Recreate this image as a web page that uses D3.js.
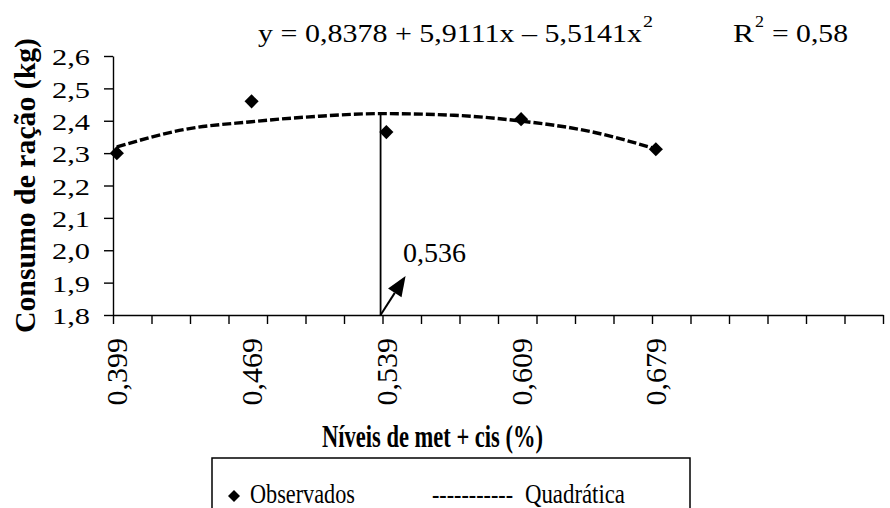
<!DOCTYPE html>
<html>
<head>
<meta charset="utf-8">
<script src="https://cdn.jsdelivr.net/npm/d3@7"></script>
<style>
  html, body { margin: 0; padding: 0; background: #fff; }
  svg { display: block; }
  text { font-family: "Liberation Serif", "Times New Roman", serif; fill: #000; }
</style>
</head>
<body>
<svg id="chart" width="890" height="508"></svg>
<script>
// ---- data ----
const xLabels   = ["0,399", "0,469", "0,539", "0,609", "0,679"];
const xValues   = [0.399, 0.469, 0.539, 0.609, 0.679];
const observed  = [2.300, 2.460, 2.365, 2.405, 2.312];
const fitX      = [0.399, 0.434, 0.469, 0.504, 0.536, 0.574, 0.609, 0.644, 0.679];
const fitY      = [2.319, 2.373, 2.397, 2.414, 2.422, 2.417, 2.399, 2.368, 2.313];
const yTicks    = [1.8, 1.9, 2.0, 2.1, 2.2, 2.3, 2.4, 2.5, 2.6];
const optimumX  = 0.536;
const optimumY  = 2.422;
const optimumLabel = "0,536";
const equationText = "y = 0,8378 + 5,9111x – 5,5141x";
const r2Value = "0,58";
const xTitle = "Níveis de met + cis (%)";
const yTitle = "Consumo de ração (kg)";
const legendLabels = ["Observados", "Quadrática"];

// ---- layout ----
const svg = d3.select("#chart");
const xDomain = [0.397, 0.797];
const x = d3.scaleLinear().domain(xDomain).range([113, 883]);
const y = d3.scaleLinear().domain([1.8, 2.6]).range([315, 56]);
const fmt = d => d3.format(".1f")(d).replace(".", ",");

function fit(sel, w) { sel.attr("textLength", w).attr("lengthAdjust", "spacingAndGlyphs"); return sel; }

// y axis
const yAxis = d3.axisLeft(y).tickValues(yTicks).tickFormat("").tickSize(9).tickSizeOuter(0);
const gy = svg.append("g").attr("transform", `translate(${x.range()[0]},0)`).call(yAxis);
gy.selectAll("path, line").attr("stroke", "#000").attr("stroke-width", 1.4);
yTicks.forEach(t => {
  fit(svg.append("text").attr("x", 52).attr("y", y(t)).attr("dy", "0.4em")
    .attr("font-size", 23).text(fmt(t)), 38);
});

// x axis with 20 evenly spaced ticks
const xTickVals = d3.range(21).map(i => xDomain[0] + i * (xDomain[1] - xDomain[0]) / 20);
const xAxis = d3.axisBottom(x).tickValues(xTickVals).tickFormat("").tickSize(9).tickSizeOuter(0);
const gx = svg.append("g").attr("transform", `translate(0,${y.range()[0]})`).call(xAxis);
gx.selectAll("path, line").attr("stroke", "#000").attr("stroke-width", 1.4);

// rotated category labels
xValues.forEach((v, i) => {
  svg.append("text")
    .attr("transform", `translate(${x(v)},338) rotate(-90)`)
    .attr("text-anchor", "end").attr("dy", "0.35em")
    .attr("font-size", 30).text(xLabels[i]);
});

// fitted quadratic (dashed)
const line = d3.line().x((d, i) => x(fitX[i])).y(d => y(d)).curve(d3.curveMonotoneX);
svg.append("path").datum(fitY).attr("d", line)
  .attr("fill", "none").attr("stroke", "#000").attr("stroke-width", 3.4)
  .attr("stroke-dasharray", "9,3");

// optimum vertical line
svg.append("line")
  .attr("x1", x(optimumX)).attr("x2", x(optimumX))
  .attr("y1", y(1.8)).attr("y2", y(optimumY))
  .attr("stroke", "#000").attr("stroke-width", 1.8);

// observed points (diamonds)
const diamond = d3.symbol().type(d3.symbolSquare).size(100);
svg.append("g").selectAll("path").data(observed).join("path")
  .attr("d", diamond)
  .attr("transform", (d, i) => `translate(${x(xValues[i])},${y(d)}) rotate(45)`)
  .attr("fill", "#000");

// arrow annotation
(function () {
  const x0 = x(optimumX), y0 = y(1.8);
  const x1 = x0 + 25, y1 = y0 - 39;
  const dx = x1 - x0, dy = y1 - y0, L = Math.hypot(dx, dy);
  const ux = dx / L, uy = dy / L, px = -uy, py = ux;
  const hl = 20, hw = 8;
  const bx = x1 - ux * hl, by = y1 - uy * hl;
  svg.append("line").attr("x1", x0).attr("y1", y0).attr("x2", bx).attr("y2", by)
    .attr("stroke", "#000").attr("stroke-width", 2);
  svg.append("path")
    .attr("d", `M${x1},${y1}L${bx + px * hw},${by + py * hw}L${bx - px * hw},${by - py * hw}Z`)
    .attr("fill", "#000");
  fit(svg.append("text").attr("x", 403).attr("y", 262).attr("font-size", 27).text(optimumLabel), 63);
})();

// equation and R²
fit(svg.append("text").attr("x", 258).attr("y", 42).attr("font-size", 25).text(equationText), 384);
fit(svg.append("text").attr("x", 643).attr("y", 27).attr("font-size", 16).text("2"), 10);
fit(svg.append("text").attr("x", 733).attr("y", 42).attr("font-size", 25).text("R"), 21);
fit(svg.append("text").attr("x", 755).attr("y", 27).attr("font-size", 16).text("2"), 9);
fit(svg.append("text").attr("x", 772).attr("y", 42).attr("font-size", 25).text("= " + r2Value), 76);

// axis titles
fit(svg.append("text")
  .attr("transform", "translate(35,185.5) rotate(-90)")
  .attr("text-anchor", "middle").attr("font-size", 30).attr("font-weight", "bold")
  .text(yTitle), 295);
fit(svg.append("text").attr("x", 322).attr("y", 447)
  .attr("font-size", 32).attr("font-weight", "bold").text(xTitle), 221);

// legend
svg.append("rect").attr("x", 212).attr("y", 458).attr("width", 478).attr("height", 80)
  .attr("fill", "none").attr("stroke", "#000").attr("stroke-width", 1.5);
svg.append("path").attr("d", d3.symbol().type(d3.symbolSquare).size(72))
  .attr("transform", "translate(234,496) rotate(45)").attr("fill", "#000");
fit(svg.append("text").attr("x", 250).attr("y", 503).attr("font-size", 27).text(legendLabels[0]), 105);
fit(svg.append("text").attr("x", 432).attr("y", 503).attr("font-size", 27).text("-----------"), 81);
fit(svg.append("text").attr("x", 525).attr("y", 503).attr("font-size", 27).text(legendLabels[1]), 100);
</script>
</body>
</html>
